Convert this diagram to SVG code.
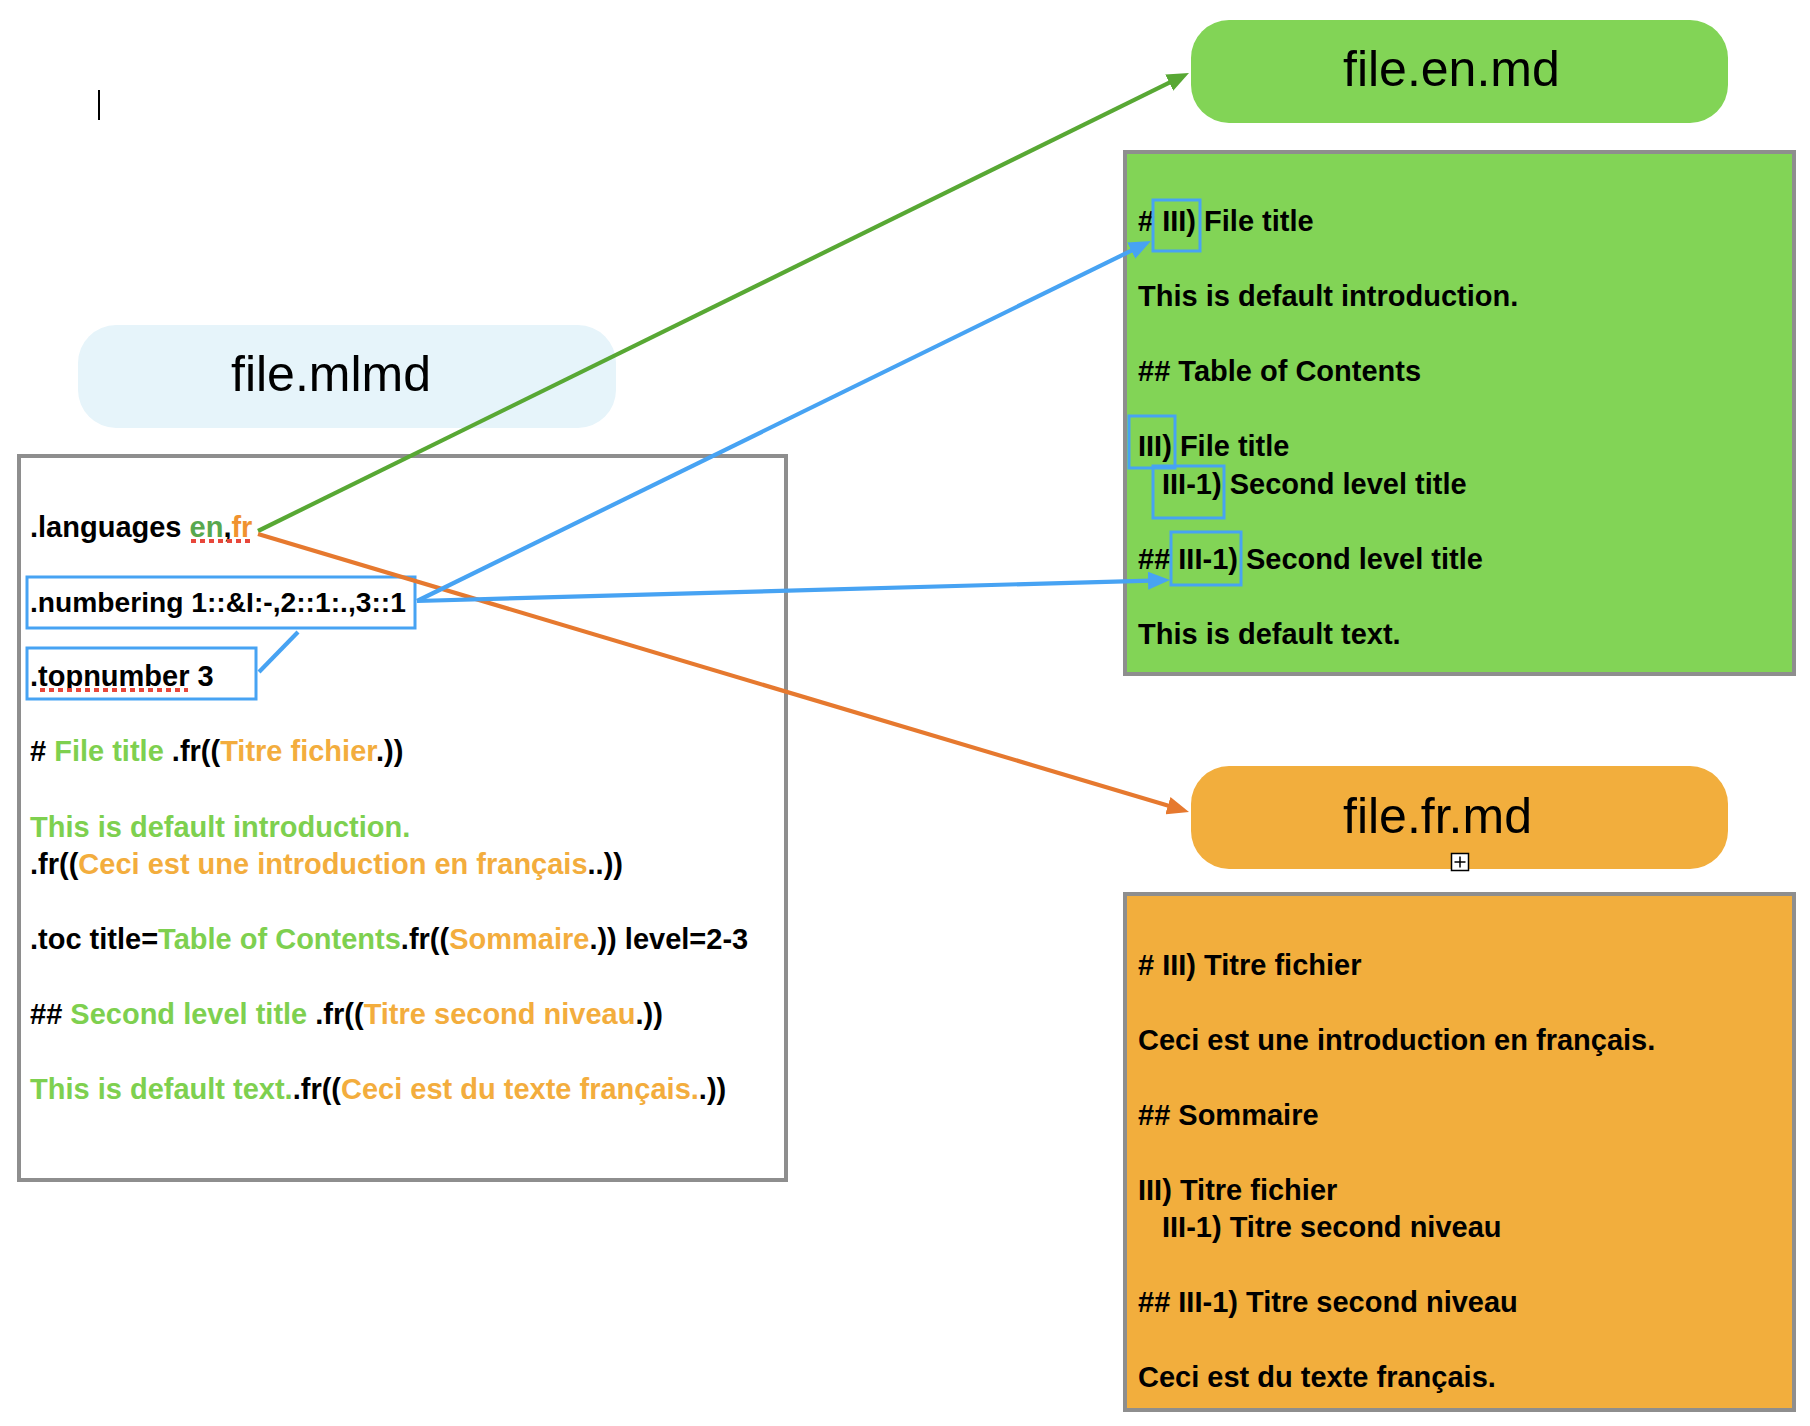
<svg xmlns="http://www.w3.org/2000/svg" width="1810" height="1426" viewBox="0 0 1810 1426">
<style>
.hdr{font-family:"Liberation Sans",Arial,Helvetica,sans-serif;font-size:50px;fill:#000}
.t{font-family:"Liberation Sans",Arial,Helvetica,sans-serif;font-size:29px;font-weight:bold;fill:#000}
.g{fill:#7ED04F}
.o{fill:#F3AD3D}
.en{fill:#58A84E}
.fr{fill:#F0922F}
.panel{stroke:#8E8E8E;stroke-width:4}
.hl{fill:none;stroke:#47A3F3;stroke-width:3}
.spell{fill:none;stroke:#E8473B;stroke-width:4;stroke-dasharray:5 4}
.conn{fill:none;stroke-width:4.2}
</style>
<defs>
<marker id="ah-green" viewBox="0 0 22 18" refX="12" refY="9" markerWidth="22" markerHeight="18" markerUnits="userSpaceOnUse" orient="auto"><path d="M0,0 L22,9 L0,18 z" fill="#58A834"/></marker>
<marker id="ah-orange" viewBox="0 0 22 18" refX="12" refY="9" markerWidth="22" markerHeight="18" markerUnits="userSpaceOnUse" orient="auto"><path d="M0,0 L22,9 L0,18 z" fill="#E6792F"/></marker>
<marker id="ah-blue" viewBox="0 0 22 18" refX="12" refY="9" markerWidth="22" markerHeight="18" markerUnits="userSpaceOnUse" orient="auto"><path d="M0,0 L22,9 L0,18 z" fill="#47A3F3"/></marker>
</defs>
<rect width="1810" height="1426" fill="#fff"/>
<line id="cursor" x1="99" y1="90" x2="99" y2="120" stroke="#000" stroke-width="2"/>

<g id="node-mlmd-title">
<rect x="78" y="325" width="538" height="103" rx="38" fill="#E6F4FA"/>
<text class="hdr" x="231" y="391">file.mlmd</text>
</g>

<g id="node-mlmd-content">
<rect class="panel" x="19" y="456" width="767" height="724" fill="#fff"/>
<rect class="hl" x="27" y="577" width="388" height="51"/>
<rect class="hl" x="27" y="648" width="229" height="51"/>
<text class="t" x="30" y="537">.languages <tspan class="en">en</tspan>,<tspan class="fr">fr</tspan></text>
<line class="spell" x1="191" y1="541" x2="251" y2="541"/>
<text class="t" x="30" y="612" style="font-size:28.2px">.numbering 1::&amp;I:-,2::1:.,3::1</text>
<text class="t" x="30" y="686">.topnumber 3</text>
<line class="spell" x1="40" y1="690" x2="188" y2="690"/>
<text class="t" x="30" y="761"># <tspan class="g">File title</tspan> .fr((<tspan class="o">Titre fichier</tspan>.))</text>
<text class="t g" x="30" y="837">This is default introduction.</text>
<text class="t" x="30" y="874">.fr((<tspan class="o">Ceci est une introduction en français</tspan>..))</text>
<text class="t" x="30" y="949">.toc title=<tspan class="g">Table of Contents</tspan>.fr((<tspan class="o">Sommaire</tspan>.)) level=2-3</text>
<text class="t" x="30" y="1024">## <tspan class="g">Second level title</tspan> .fr((<tspan class="o">Titre second niveau</tspan>.))</text>
<text class="t" x="30" y="1099"><tspan class="g">This is default text.</tspan>.fr((<tspan class="o">Ceci est du texte français.</tspan>.))</text>
</g>

<g id="node-en-title">
<rect x="1191" y="20" width="537" height="103" rx="38" fill="#82D456"/>
<text class="hdr" x="1343" y="86">file.en.md</text>
</g>

<g id="node-en-content">
<rect class="panel" x="1125" y="152" width="669" height="522" fill="#82D456"/>
<text class="t" x="1138" y="231"># III) File title</text>
<text class="t" x="1138" y="306">This is default introduction.</text>
<text class="t" x="1138" y="381">## Table of Contents</text>
<text class="t" x="1138" y="456">III) File title</text>
<text class="t" x="1162" y="494">III-1) Second level title</text>
<text class="t" x="1138" y="569">## III-1) Second level title</text>
<text class="t" x="1138" y="644">This is default text.</text>
<rect class="hl" x="1153" y="200" width="47" height="51"/>
<rect class="hl" x="1129" y="416" width="46" height="52"/>
<rect class="hl" x="1153" y="466" width="71" height="52"/>
<rect class="hl" x="1171" y="532" width="70" height="53"/>
</g>

<g id="node-fr-title">
<rect x="1191" y="766" width="537" height="103" rx="38" fill="#F2AE3D"/>
<text class="hdr" x="1343" y="833">file.fr.md</text>
<rect x="1451.5" y="853.5" width="17" height="17" fill="#fff" stroke="#000" stroke-width="1.5"/>
<path d="M1460,856.5 V867.5 M1454.5,862 H1465.5" stroke="#000" stroke-width="1.5" fill="none"/>
</g>

<g id="node-fr-content">
<rect class="panel" x="1125" y="894" width="669" height="516" fill="#F2AE3D"/>
<text class="t" x="1138" y="975"># III) Titre fichier</text>
<text class="t" x="1138" y="1050">Ceci est une introduction en français.</text>
<text class="t" x="1138" y="1125">## Sommaire</text>
<text class="t" x="1138" y="1200">III) Titre fichier</text>
<text class="t" x="1162" y="1237">III-1) Titre second niveau</text>
<text class="t" x="1138" y="1312">## III-1) Titre second niveau</text>
<text class="t" x="1138" y="1387">Ceci est du texte français.</text>
</g>

<g id="connectors">
<path class="conn" d="M258,531 L1180,77.4" stroke="#58A834" marker-end="url(#ah-green)"/>
<path class="conn" d="M258,534 L1179.4,809.1" stroke="#E6792F" marker-end="url(#ah-orange)"/>
<path class="conn" d="M417,601 L1142,245.4" stroke="#47A3F3" marker-end="url(#ah-blue)"/>
<path class="conn" d="M417,601 L1160,580.3" stroke="#47A3F3" marker-end="url(#ah-blue)"/>
<path class="conn" d="M298,632 L259,672" stroke="#47A3F3"/>
</g>
</svg>
